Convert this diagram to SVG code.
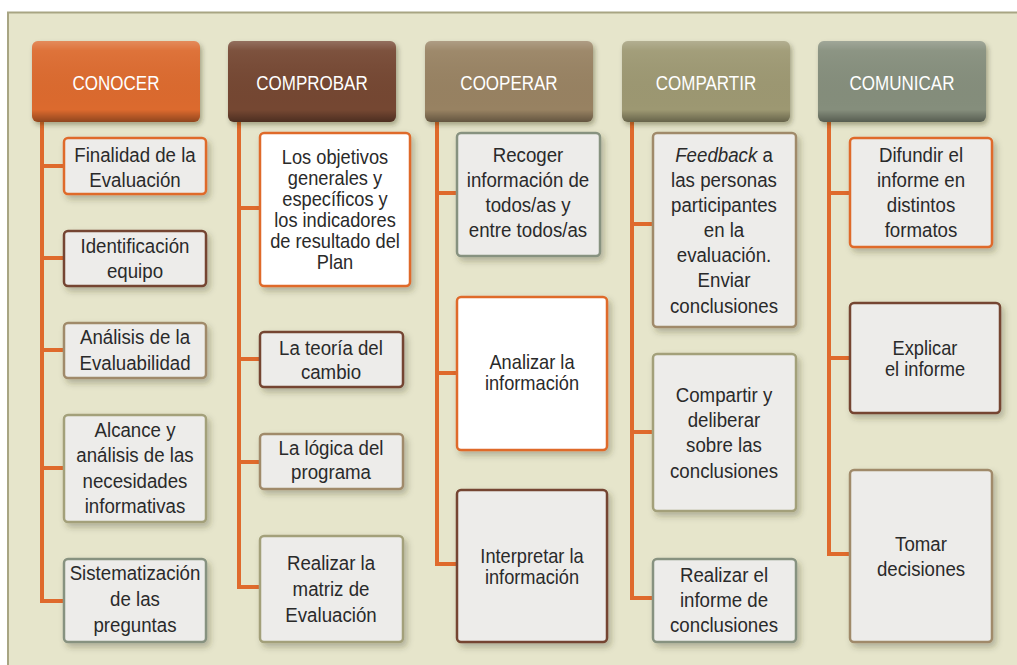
<svg xmlns="http://www.w3.org/2000/svg" width="1017" height="665" viewBox="0 0 1017 665">
<defs>
<filter id="sh" x="-20%" y="-20%" width="150%" height="150%">
<feDropShadow dx="3" dy="4" stdDeviation="3" flood-color="#3a3a20" flood-opacity="0.3"/>
</filter>
<filter id="hsh" x="-20%" y="-20%" width="150%" height="150%">
<feDropShadow dx="2" dy="3" stdDeviation="2.5" flood-color="#2a2a10" flood-opacity="0.35"/>
</filter>
<linearGradient id="gl" x1="0" y1="0" x2="0" y2="1">
<stop offset="0" stop-color="#fff" stop-opacity="0.22"/>
<stop offset="0.12" stop-color="#fff" stop-opacity="0.06"/>
<stop offset="0.85" stop-color="#000" stop-opacity="0"/>
<stop offset="1" stop-color="#000" stop-opacity="0.35"/>
</linearGradient>
</defs>
<style>
.hd text{font-family:'Liberation Sans',Arial,sans-serif;font-size:21px;fill:#ffffff;text-anchor:middle}
.bx text{font-family:'Liberation Sans',Arial,sans-serif;font-size:21px;fill:#2a2a2a;text-anchor:middle}
.bx text.s{font-size:20.5px}
.bx rect{fill:#edecea;stroke-width:2.5;filter:url(#sh)}
.bx rect.w{fill:#ffffff}
.o{stroke:#df6a2c}.b{stroke:#744532}.t{stroke:#a08a6a}.v{stroke:#a3a07a}.g{stroke:#879280}
.cn path{fill:none;stroke:#df6a2c;stroke-width:4}
</style>
<rect x="8" y="12.5" width="1020" height="660" fill="#e6e5cb" stroke="#a8a583" stroke-width="2"/>

<g id="connectors" class="cn">
<path d="M42 120 V601 H64 M42 166 H64 M42 258 H64 M42 350 H64 M42 468 H64"/>
<path d="M239 120 V587 H260 M239 208 H260 M239 359 H260 M239 462 H260"/>
<path d="M437 120 V564 H457 M437 193 H457 M437 373 H457"/>
<path d="M632 120 V598 H653 M632 224 H653 M632 432 H653"/>
<path d="M829 120 V554 H850 M829 193 H850 M829 358 H850"/>
</g>

<g id="h-conocer" class="hd">
<rect x="32" y="41" width="168" height="81" rx="6" fill="#dc6a2d" filter="url(#hsh)"/>
<rect x="32" y="41" width="168" height="81" rx="6" fill="url(#gl)"/>
<text transform="translate(116 90) scale(0.81 1)">CONOCER</text>
</g>
<g id="h-comprobar" class="hd">
<rect x="228" y="41" width="168" height="81" rx="6" fill="#754733" filter="url(#hsh)"/>
<rect x="228" y="41" width="168" height="81" rx="6" fill="url(#gl)"/>
<text transform="translate(312 90) scale(0.81 1)">COMPROBAR</text>
</g>
<g id="h-cooperar" class="hd">
<rect x="425" y="41" width="168" height="81" rx="6" fill="#988262" filter="url(#hsh)"/>
<rect x="425" y="41" width="168" height="81" rx="6" fill="url(#gl)"/>
<text transform="translate(509 90) scale(0.81 1)">COOPERAR</text>
</g>
<g id="h-compartir" class="hd">
<rect x="622" y="41" width="168" height="81" rx="6" fill="#9d9872" filter="url(#hsh)"/>
<rect x="622" y="41" width="168" height="81" rx="6" fill="url(#gl)"/>
<text transform="translate(706 90) scale(0.81 1)">COMPARTIR</text>
</g>
<g id="h-comunicar" class="hd">
<rect x="818" y="41" width="168" height="81" rx="6" fill="#858e7b" filter="url(#hsh)"/>
<rect x="818" y="41" width="168" height="81" rx="6" fill="url(#gl)"/>
<text transform="translate(902 90) scale(0.81 1)">COMUNICAR</text>
</g>

<!-- Column 1 -->
<g id="n-finalidad" class="bx">
<rect class="o" x="64" y="138" width="142" height="56" rx="4"/>
<g transform="translate(135 0) scale(0.89 1)">
<text y="162">Finalidad de la</text>
<text y="187">Evaluación</text>
</g>
</g>
<g id="n-identificacion" class="bx">
<rect class="b" x="64" y="231" width="142" height="55" rx="4"/>
<g transform="translate(135 0) scale(0.89 1)">
<text y="253">Identificación</text>
<text y="278">equipo</text>
</g>
</g>
<g id="n-analisis" class="bx">
<rect class="t" x="64" y="323" width="142" height="55" rx="4"/>
<g transform="translate(135 0) scale(0.89 1)">
<text y="344">Análisis de la</text>
<text y="370">Evaluabilidad</text>
</g>
</g>
<g id="n-alcance" class="bx">
<rect class="v" x="64" y="415" width="142" height="107" rx="4"/>
<g transform="translate(135 0) scale(0.89 1)">
<text y="437">Alcance y</text>
<text y="462">análisis de las</text>
<text y="488">necesidades</text>
<text y="513">informativas</text>
</g>
</g>
<g id="n-sistematizacion" class="bx">
<rect class="g" x="64" y="559" width="142" height="83" rx="4"/>
<g transform="translate(135 0) scale(0.89 1)">
<text y="580">Sistematización</text>
<text y="606">de las</text>
<text y="632">preguntas</text>
</g>
</g>

<!-- Column 2 -->
<g id="n-objetivos" class="bx">
<rect class="o w" x="260" y="133" width="150" height="153" rx="4"/>
<g transform="translate(335 0) scale(0.89 1)">
<text class="s" y="164">Los objetivos</text>
<text class="s" y="185">generales y</text>
<text class="s" y="206">específicos y</text>
<text class="s" y="227">los indicadores</text>
<text class="s" y="248">de resultado del</text>
<text class="s" y="269">Plan</text>
</g>
</g>
<g id="n-teoria" class="bx">
<rect class="b" x="260" y="332" width="143" height="55" rx="4"/>
<g transform="translate(331 0) scale(0.89 1)">
<text y="355">La teoría del</text>
<text y="379">cambio</text>
</g>
</g>
<g id="n-logica" class="bx">
<rect class="t" x="260" y="434" width="143" height="55" rx="4"/>
<g transform="translate(331 0) scale(0.89 1)">
<text y="455">La lógica del</text>
<text y="479">programa</text>
</g>
</g>
<g id="n-matriz" class="bx">
<rect class="v" x="260" y="536" width="143" height="106" rx="4"/>
<g transform="translate(331 0) scale(0.89 1)">
<text y="570">Realizar la</text>
<text y="596">matriz de</text>
<text y="622">Evaluación</text>
</g>
</g>

<!-- Column 3 -->
<g id="n-recoger" class="bx">
<rect class="g" x="457" y="133" width="143" height="123" rx="4"/>
<g transform="translate(528 0) scale(0.89 1)">
<text y="162">Recoger</text>
<text y="187">información de</text>
<text y="212">todos/as y</text>
<text y="237">entre todos/as</text>
</g>
</g>
<g id="n-analizar" class="bx">
<rect class="o w" x="457" y="297" width="150" height="153" rx="4"/>
<g transform="translate(532 0) scale(0.89 1)">
<text class="s" y="369">Analizar la</text>
<text class="s" y="390">información</text>
</g>
</g>
<g id="n-interpretar" class="bx">
<rect class="b" x="457" y="490" width="150" height="152" rx="4"/>
<g transform="translate(532 0) scale(0.89 1)">
<text class="s" y="563">Interpretar la</text>
<text class="s" y="584">información</text>
</g>
</g>

<!-- Column 4 -->
<g id="n-feedback" class="bx">
<rect class="t" x="653" y="133" width="143" height="194" rx="4"/>
<g transform="translate(724 0) scale(0.89 1)">
<text y="162"><tspan font-style="italic">Feedback</tspan> a</text>
<text y="187">las personas</text>
<text y="212">participantes</text>
<text y="237">en la</text>
<text y="262">evaluación.</text>
<text y="287">Enviar</text>
<text y="313">conclusiones</text>
</g>
</g>
<g id="n-compartir" class="bx">
<rect class="v" x="653" y="354" width="143" height="157" rx="4"/>
<g transform="translate(724 0) scale(0.89 1)">
<text y="402">Compartir y</text>
<text y="427">deliberar</text>
<text y="452">sobre las</text>
<text y="478">conclusiones</text>
</g>
</g>
<g id="n-informe" class="bx">
<rect class="g" x="653" y="559" width="143" height="83" rx="4"/>
<g transform="translate(724 0) scale(0.89 1)">
<text y="582">Realizar el</text>
<text y="607">informe de</text>
<text y="632">conclusiones</text>
</g>
</g>

<!-- Column 5 -->
<g id="n-difundir" class="bx">
<rect class="o" x="850" y="138" width="142" height="109" rx="4"/>
<g transform="translate(921 0) scale(0.89 1)">
<text y="162">Difundir el</text>
<text y="187">informe en</text>
<text y="212">distintos</text>
<text y="237">formatos</text>
</g>
</g>
<g id="n-explicar" class="bx">
<rect class="b" x="850" y="303" width="150" height="110" rx="4"/>
<g transform="translate(925 0) scale(0.89 1)">
<text class="s" y="355">Explicar</text>
<text class="s" y="376">el informe</text>
</g>
</g>
<g id="n-tomar" class="bx">
<rect class="t" x="850" y="470" width="142" height="172" rx="4"/>
<g transform="translate(921 0) scale(0.89 1)">
<text y="551">Tomar</text>
<text y="576">decisiones</text>
</g>
</g>
</svg>
